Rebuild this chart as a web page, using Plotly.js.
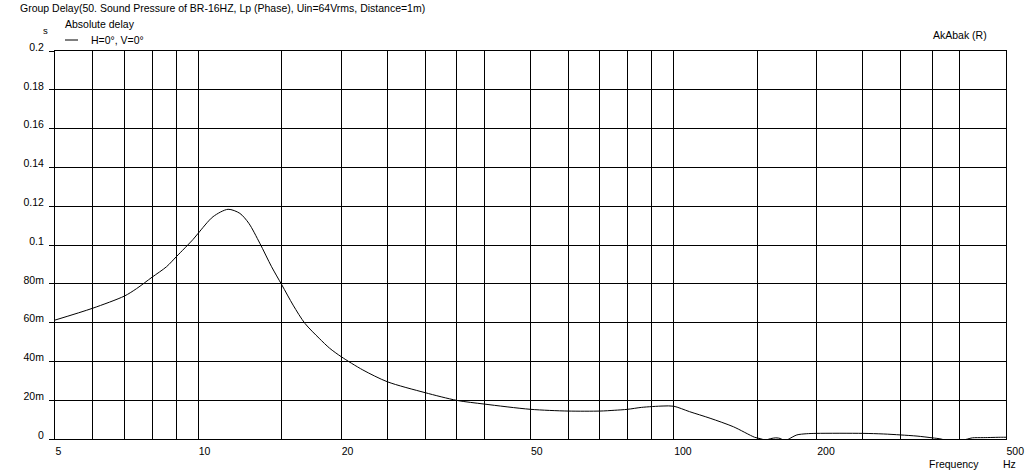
<!DOCTYPE html>
<html>
<head>
<meta charset="utf-8">
<script src="https://cdn.plot.ly/plotly-3.0.1.min.js"></script>
<style>
  html, body { margin: 0; padding: 0; background: #ffffff; }
  #chart { width: 1031px; height: 476px; }
</style>
</head>
<body>
<div id="chart"></div>
<script>
// ---- data ----
const frequencyHz = [5, 6, 7, 7.42, 8, 8.58, 9, 9.76, 10, 10.75, 11.56, 12.24, 12.78, 13.48, 14.27, 15, 15.84, 16.77, 17.97, 18.9, 20, 22.2, 25, 30, 35, 40, 50, 60, 70, 75, 80, 85.6, 95, 100, 108, 119.3, 133.6, 148, 152, 156, 160, 164, 168, 171, 175, 181.6, 190, 200, 250, 276, 300, 325, 350, 365, 380, 400, 415, 425, 448, 490, 500];
const groupDelayS = [0.0613, 0.0674, 0.0737, 0.0775, 0.0834, 0.0888, 0.094, 0.1029, 0.106, 0.1146, 0.1184, 0.1163, 0.1112, 0.1009, 0.0888, 0.0794, 0.069, 0.0596, 0.0519, 0.0468, 0.0424, 0.0356, 0.0295, 0.0239, 0.0199, 0.018, 0.0153, 0.0144, 0.0144, 0.0148, 0.0153, 0.0163, 0.017, 0.0169, 0.0141, 0.0107, 0.0063, 0.0009, 0.0002, -0.0005, 0.0002, 0.0006, 0.0002, -0.0012, 0.0001, 0.0021, 0.0027, 0.0029, 0.0029, 0.0026, 0.0021, 0.0015, 0.0006, 0.0, -0.0012, -0.0010, 0.0, 0.0006, 0.0007, 0.0009, 0.0009];

const xGridValues = [5, 6, 7, 8, 9, 10, 15, 20, 25, 30, 35, 40, 50, 60, 70, 80, 90, 100, 150, 200, 250, 300, 350, 400, 500];
const xGridLabels = ['5', '', '', '', '', '10', '', '20', '', '', '', '', '50', '', '', '', '', '100', '', '200', '', '', '', '', '500'];
const yTickValues = [0, 0.02, 0.04, 0.06, 0.08, 0.1, 0.12, 0.14, 0.16, 0.18, 0.2];
const yTickLabels = ['0', '20m', '40m', '60m', '80m', '0.1', '0.12', '0.14', '0.16', '0.18', '0.2'];

const chartTitle = 'Group Delay(50. Sound Pressure of BR-16HZ, Lp (Phase), Uin=64Vrms, Distance=1m)';
const legendTitle = 'Absolute delay';
const seriesName = 'H=0°, V=0°';
const yUnit = 's';
const xAxisName = 'Frequency';
const xUnit = 'Hz';
const credit = 'AkAbak (R)';

// ---- drawing ----
const FONT = 'Liberation Sans, Arial, sans-serif';
const FS = 10.5;
const W = 1031, H = 476;
const L = 55, R = 1006, T = 51, B = 439;
const px = x => (x - L) / (R - L);
const py = y => (B - y) / (B - T);

const trace = {
  x: frequencyHz,
  y: groupDelayS,
  type: 'scatter',
  mode: 'lines',
  name: seriesName,
  line: { color: '#000000', width: 1, shape: 'spline', smoothing: 0.8 },
  hoverinfo: 'skip'
};

function ann(text, x, y, xanchor, size) {
  return {
    text: text, xref: 'paper', yref: 'paper',
    x: px(x), y: py(y), xanchor: xanchor, yanchor: 'middle',
    showarrow: false, borderpad: 0,
    font: { family: FONT, size: size || FS, color: '#000000' }
  };
}

const layout = {
  width: W, height: H,
  margin: { l: L, r: W - R, t: T, b: H - B, pad: 0 },
  paper_bgcolor: '#ffffff',
  plot_bgcolor: '#ffffff',
  showlegend: false,
  font: { family: FONT, size: FS, color: '#000000' },
  title: {
    text: chartTitle,
    x: 20 / W, xanchor: 'left', xref: 'container',
    y: 1 - 8 / H, yanchor: 'middle', yref: 'container',
    font: { family: FONT, size: FS, color: '#000000' }
  },
  xaxis: {
    type: 'log',
    range: [Math.log10(5), Math.log10(500)],
    tickmode: 'array',
    tickvals: xGridValues,
    ticktext: xGridLabels,
    ticks: '',
    ticklabelposition: 'outside right',
    ticklabelstandoff: 2,
    tickfont: { family: FONT, size: FS, color: '#000000' },
    showgrid: true, gridcolor: '#000000', gridwidth: 1,
    showline: true, mirror: true, linecolor: '#000000', linewidth: 1,
    zeroline: false, fixedrange: true
  },
  yaxis: {
    range: [0, 0.2],
    tickmode: 'array',
    tickvals: yTickValues,
    ticktext: yTickLabels,
    ticks: 'outside', ticklen: 5, tickcolor: '#000000', tickwidth: 1,
    ticklabelposition: 'outside top',
    ticklabelstandoff: 8,
    ticklabelshift: 4,
    tickfont: { family: FONT, size: FS, color: '#000000' },
    showgrid: true, gridcolor: '#000000', gridwidth: 1,
    showline: true, mirror: true, linecolor: '#000000', linewidth: 1,
    zeroline: false, fixedrange: true
  },
  shapes: [
    { type: 'line', xref: 'paper', yref: 'paper', x0: px(65), x1: px(78), y0: py(40), y1: py(40),
      line: { color: '#000000', width: 1 } }
  ],
  annotations: [
    ann(yUnit, 45, 31, 'center', 9.5),
    ann(legendTitle, 64, 24, 'left'),
    ann(seriesName, 90, 40, 'left'),
    ann(credit, 932, 35, 'left'),
    ann(xAxisName, 928, 464, 'left'),
    ann(xUnit, 1002, 464, 'left')
  ]
};

Plotly.newPlot('chart', [trace], layout, { staticPlot: true, displayModeBar: false });
</script>
</body>
</html>
